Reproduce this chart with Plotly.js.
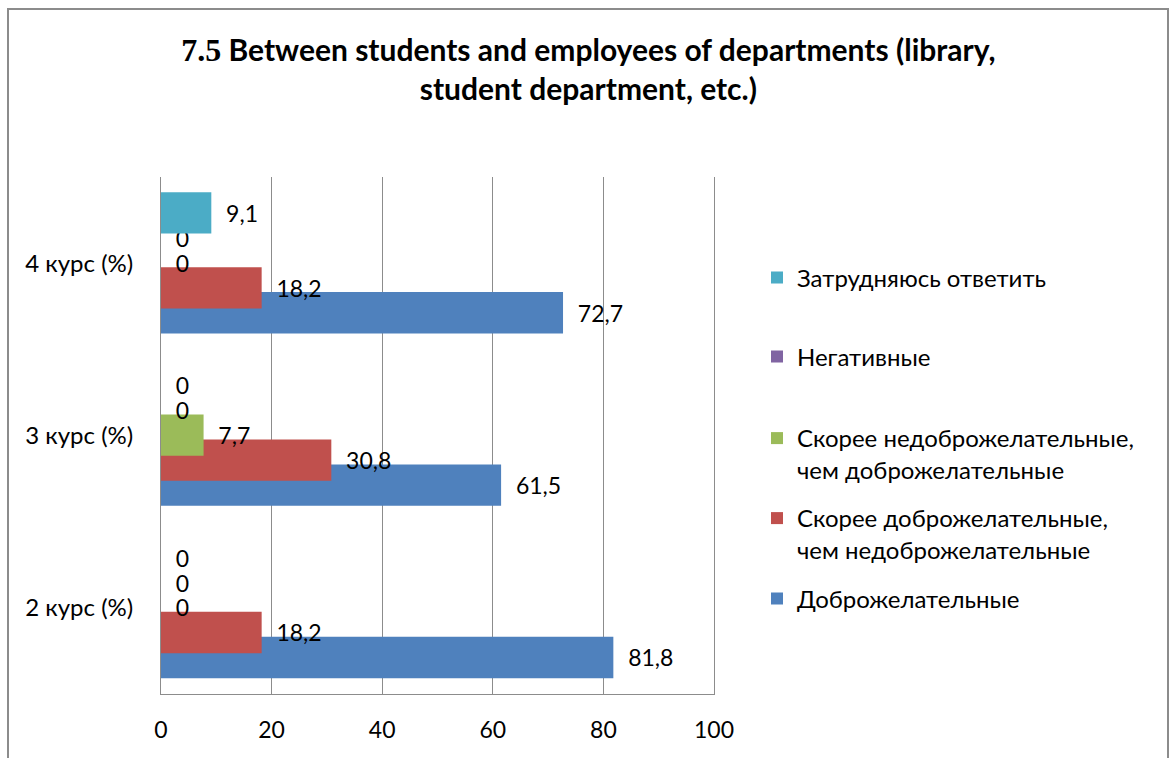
<!DOCTYPE html>
<html><head><meta charset="utf-8">
<script src="https://cdn.plot.ly/plotly-3.0.1.min.js"></script>
<style>
html,body{margin:0;padding:0;background:#fff;}
#chart{width:1172px;height:758px;}
#frame{position:absolute;left:7px;top:8px;width:1162px;height:800px;border:2px solid #8c8c8c;pointer-events:none;box-sizing:border-box;}
</style>
</head><body>
<div id="chart"></div><div id="frame"></div>
<script>
// ---- data ----
const categories = ['2 курс (%)', '3 курс (%)', '4 курс (%)'];
const seriesNames = [
  'Доброжелательные',
  'Скорее доброжелательные,<br>чем недоброжелательные',
  'Скорее недоброжелательные,<br>чем доброжелательные',
  'Негативные',
  'Затрудняюсь ответить'
];
const dobro = [81.8, 61.5, 72.7];
const skoreeDobro = [18.2, 30.8, 18.2];
const skoreeNedobro = [0, 7.7, 0];
const negativ = [0, 0, 0];
const zatrud = [0, 0, 9.1];
const xTicks = [0, 20, 40, 60, 80, 100];

// ---- styles ----
const seriesValues = [dobro, skoreeDobro, skoreeNedobro, negativ, zatrud];
const colors = ['#4F81BD', '#C0504D', '#9BBB59', '#8064A2', '#4BACC6'];
const offsets = [-0.408, -0.263, -0.118, 0.027, 0.172];
const barWidth = 0.24;
const legendIds = ['legend', 'legend2', 'legend3', 'legend4', 'legend5'];
const legendY = [599, 534, 454, 357, 278]; // pixel centres
const FONT = 'Lato, "Open Sans", sans-serif';

const fmt = v => '\u00A0\u00A0' + String(v).replace('.', ',');

const traces = seriesValues.map((vals, i) => ({
  type: 'bar',
  orientation: 'h',
  name: seriesNames[i],
  x: vals,
  y: categories,
  offset: offsets[i],
  width: barWidth,
  marker: {color: colors[i], line: {width: 0}},
  text: vals.map(fmt),
  textposition: 'outside',
  textfont: {family: FONT, size: 23, color: '#000'},
  constraintext: 'none',
  cliponaxis: false,
  hoverinfo: 'skip',
  showlegend: true,
  legend: legendIds[i]
}));

const layout = {
  width: 1172, height: 758,
  margin: {l: 161, r: 458, t: 177, b: 64},
  paper_bgcolor: '#fff', plot_bgcolor: '#fff',
  font: {family: FONT, size: 23, color: '#000'},
  barmode: 'overlay',
  showlegend: true,
  title: {
    text: '<b><span style="font-family:\'Liberation Serif\';font-size:32px">7.5</span> Between students and employees of departments (library,<br>student department, etc.)</b>',
    x: 0.502, xref: 'container', xanchor: 'center',
    y: 1 - 61 / 758, yref: 'container', yanchor: 'middle',
    font: {family: FONT, size: 30, color: '#000'}
  },
  xaxis: {
    range: [0, 100], tickvals: xTicks, ticktext: xTicks.map(String),
    showgrid: true, gridcolor: '#8c8c8c', gridwidth: 1,
    showline: true, linecolor: '#8c8c8c', linewidth: 1,
    zeroline: false, ticks: '', ticklabelstandoff: 15,
    tickfont: {family: FONT, size: 23, color: '#000'}, fixedrange: true
  },
  yaxis: {
    type: 'category', categoryorder: 'array', categoryarray: categories,
    range: [-0.5, 2.5], showgrid: false,
    showline: true, mirror: true, linecolor: '#8c8c8c', linewidth: 1,
    zeroline: false, ticks: '', ticklabelstandoff: 22,
    tickfont: {family: FONT, size: 24, color: '#000'}, fixedrange: true
  },
  hovermode: false
};

legendIds.forEach((id, i) => {
  layout[id] = {
    x: 757 / 1172, xref: 'container', xanchor: 'left',
    y: 1 - legendY[i] / 758, yref: 'container', yanchor: 'middle',
    bgcolor: 'rgba(0,0,0,0)', borderwidth: 0, valign: 'top',
    font: {family: FONT, size: 24, color: '#000'}
  };
});

Plotly.newPlot('chart', traces, layout, {displayModeBar: false, staticPlot: true});
</script>
</body></html>
